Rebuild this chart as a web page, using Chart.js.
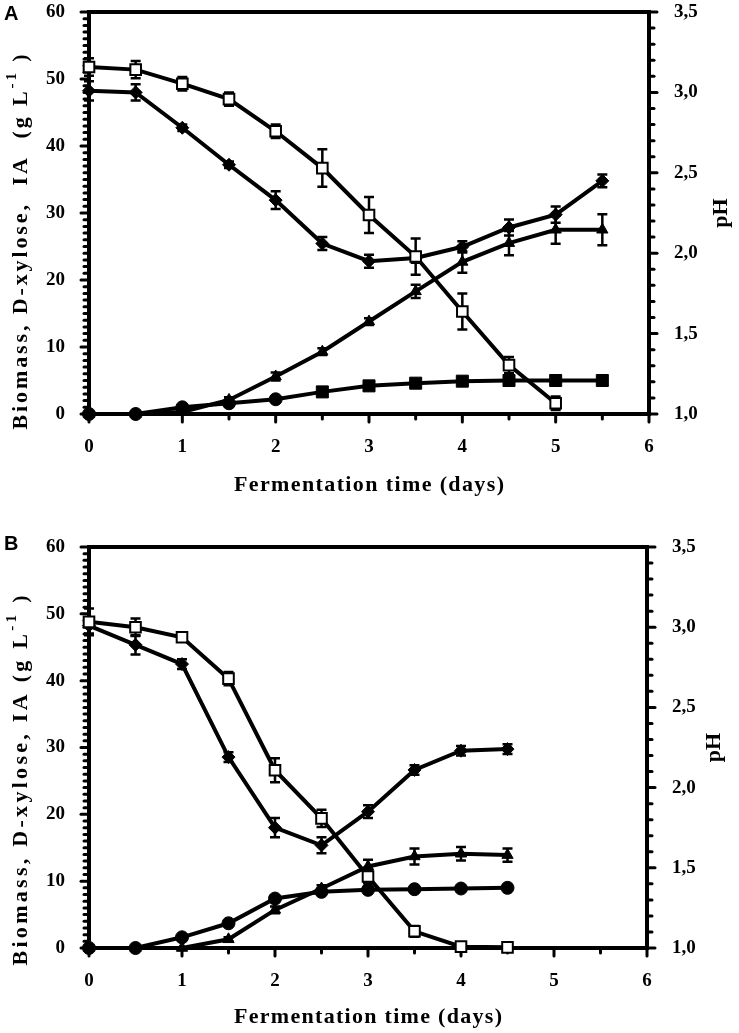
<!DOCTYPE html>
<html lang="en">
<head>
<meta charset="UTF-8"/>
<title>Fermentation time course</title>
<script src="https://cdn.jsdelivr.net/npm/chart.js"></script>
<style>
  body { margin: 0; background: #fff; }
  .panel { position: absolute; left: 0; }
  .tag { position: absolute; font: bold 20px "Liberation Sans", Arial, sans-serif; color: #000; }
</style>
</head>
<body>
<div class="panel" style="top:0"><canvas id="chartA" width="739" height="516"></canvas></div>
<div class="panel" style="top:516px"><canvas id="chartB" width="739" height="517"></canvas></div>
<div class="tag" style="left:4px;top:2px">A</div>
<div class="tag" style="left:4px;top:532px">B</div>
<script>
// sampling times (days)
const daysA = [0, 0.5, 1, 1.5, 2, 2.5, 3, 3.5, 4, 4.5, 5, 5.5];
const daysB = [0, 0.5, 1, 1.5, 2, 2.5, 3, 3.5, 4, 4.5];

// panel A
const xyloseA    = [51.8, 51.4, 49.3, 47.0, 42.2, 36.7, 29.7, 23.5, 15.3, 7.3, 1.6];
const xyloseErrA = [1.3, 1.3, 1.0, 1.0, 1.0, 2.8, 2.7, 2.7, 2.7, 1.2, 1.0];
const phA        = [3.01, 3.00, 2.78, 2.55, 2.33, 2.06, 1.95, 1.97, 2.04, 2.16, 2.24, 2.45];
const phErrA     = [0.06, 0.05, 0.02, 0.02, 0.055, 0.04, 0.04, 0.03, 0.035, 0.05, 0.05, 0.04];
const iaA        = [0, 0, 0.3, 2.1, 5.6, 9.3, 13.8, 18.3, 22.7, 25.5, 27.5, 27.5];
const iaErrA     = [0, 0, 0.2, 0.4, 0.6, 0.5, 0.5, 1.0, 1.6, 1.8, 2.1, 2.3];
const biomassA   = [0, 0, 1.0, 1.6, 2.2, 3.3, 4.2, 4.6, 4.9, 5.0, 5.0, 5.0];
const biomassErrA = [0, 0, 0.2, 0.3, 0.3, 0.5, 0.5, 0.5, 0.5, 0.5, 0.5, 0.5];

// panel B
const xyloseB    = [48.8, 48.0, 46.5, 40.3, 26.6, 19.4, 10.7, 2.5, 0.2, 0.1];
const xyloseErrB = [2.0, 1.3, 0.6, 1.0, 1.8, 1.3, 1.0, 0.8, 0.3, 0.3];
const phB        = [3.01, 2.89, 2.77, 2.19, 1.75, 1.64, 1.85, 2.11, 2.23, 2.24];
const phErrB     = [0.05, 0.06, 0.03, 0.03, 0.06, 0.05, 0.04, 0.03, 0.03, 0.03];
const iaB        = [0, 0, 0, 1.3, 5.7, 8.9, 12.2, 13.7, 14.1, 13.9];
const iaErrB     = [0, 0, 0, 0.3, 0.5, 0.5, 1.0, 1.2, 1.0, 1.0];
const biomassB   = [0, 0, 1.6, 3.7, 7.4, 8.4, 8.7, 8.8, 8.9, 9.0];
const biomassErrB = [0, 0, 0.2, 0.3, 0.4, 0.4, 0.4, 0.3, 0.3, 0.3];

const serif = '"Liberation Serif", "Times New Roman", serif';
const tickFont = { family: serif, weight: 'bold', size: 19 };

function pts(xs, ys) {
    return ys.map(function (v, i) { return { x: xs[i], y: v }; });
}

function line(xs, ys, errs, axis, style, radius, fill) {
    return {
        data: pts(xs, ys),
        errors: errs,
        yAxisID: axis,
        borderColor: '#000',
        borderWidth: 4,
        tension: 0,
        fill: false,
        clip: false,
        pointStyle: style,
        pointRadius: radius,
        pointBackgroundColor: fill,
        pointBorderColor: '#000',
        pointBorderWidth: fill === '#fff' ? 2 : 1
    };
}

// draws text stretched to a given length
function spaced(ctx, parts, cx, cy, span) {
    var natural = 0, n = 0;
    ctx.letterSpacing = '0px';
    parts.forEach(function (p) {
        ctx.font = p.font;
        natural += ctx.measureText(p.t).width;
        n += p.t.length;
    });
    var gap = span ? (span - natural) / Math.max(1, n - 1) : 0;
    var x = cx - (span || natural) / 2;
    ctx.textAlign = 'left';
    ctx.textBaseline = 'middle';
    parts.forEach(function (p) {
        ctx.font = p.font;
        ctx.letterSpacing = gap + 'px';
        ctx.fillText(p.t, x, cy + (p.dy || 0));
        x += ctx.measureText(p.t).width;
    });
    ctx.letterSpacing = '0px';
}

function isMajor(scale, v) {
    var step = scale.id === 'y' ? 10 : (scale.id === 'y1' ? 0.5 : 1);
    var r = v / step;
    return Math.abs(r - Math.round(r)) < 1e-6;
}

const frameAndBars = {
    id: 'frameAndBars',
    beforeDatasetsDraw: function (chart) {
        var ctx = chart.ctx, a = chart.chartArea;
        ctx.save();
        ctx.strokeStyle = '#000';
        // tick marks outside the frame
        ctx.lineWidth = 3;
        ctx.lineCap = 'round';
        ['x', 'y', 'y1'].forEach(function (id) {
            var s = chart.scales[id];
            s.ticks.forEach(function (t) {
                var p = s.getPixelForValue(t.value);
                var len = isMajor(s, t.value) ? 6 : 3;
                ctx.beginPath();
                if (id === 'x') { ctx.moveTo(p, a.bottom); ctx.lineTo(p, a.bottom + 2 + len); }
                else if (id === 'y') { ctx.moveTo(a.left, p); ctx.lineTo(a.left - 2 - len, p); }
                else { ctx.moveTo(a.right, p); ctx.lineTo(a.right + 2 + len, p); }
                ctx.stroke();
            });
        });
        ctx.lineCap = 'butt';
        ctx.lineWidth = 4;
        ctx.strokeRect(a.left, a.top, a.right - a.left, a.bottom - a.top);
        // error bars
        ctx.lineWidth = 2.5;
        chart.data.datasets.forEach(function (ds) {
            var ys = chart.scales[ds.yAxisID], xs = chart.scales.x;
            ds.data.forEach(function (p, j) {
                var e = ds.errors[j];
                if (!e) return;
                var px = xs.getPixelForValue(p.x);
                var y1 = ys.getPixelForValue(p.y - e), y2 = ys.getPixelForValue(p.y + e);
                ctx.beginPath();
                ctx.moveTo(px, y1); ctx.lineTo(px, y2);
                ctx.moveTo(px - 5, y1); ctx.lineTo(px + 5, y1);
                ctx.moveTo(px - 5, y2); ctx.lineTo(px + 5, y2);
                ctx.stroke();
            });
        });
        ctx.restore();
    },
    afterDraw: function (chart, args, o) {
        var ctx = chart.ctx, a = chart.chartArea;
        var big = 'bold 22px ' + serif, small = 'bold 15px ' + serif;
        ctx.save();
        ctx.fillStyle = '#000';
        // left title, rotated
        ctx.save();
        ctx.translate(o.yTitleX, (a.top + a.bottom) / 2 + o.yTitleShift);
        ctx.rotate(-Math.PI / 2);
        spaced(ctx, [
            { t: o.yTitle, font: big },
            { t: '-1', font: small, dy: -9 },
            { t: ' )', font: big }
        ], 0, 0, o.yTitleSpan);
        ctx.restore();
        // right title
        ctx.save();
        ctx.translate(o.phX, (a.top + a.bottom) / 2);
        ctx.rotate(-Math.PI / 2);
        spaced(ctx, [{ t: 'pH', font: big }], 0, 0, 0);
        ctx.restore();
        // bottom title
        spaced(ctx, [{ t: 'Fermentation time (days)', font: big }],
            (a.left + a.right) / 2, o.xTitleY, o.xTitleSpan);
        ctx.restore();
    }
};

function noPad(s) {
    s.paddingTop = 0; s.paddingBottom = 0; s.paddingLeft = 0; s.paddingRight = 0;
}

function makeChart(id, datasets, cfg) {
    var grid = { display: false };
    return new Chart(document.getElementById(id), {
        type: 'line',
        data: { datasets: datasets },
        options: {
            responsive: false,
            animation: false,
            layout: { padding: { top: cfg.top, left: 0, right: 0, bottom: 0 } },
            plugins: { legend: { display: false }, tooltip: { enabled: false }, frameAndBars: cfg.titles },
            scales: {
                x: {
                    type: 'linear', min: 0, max: 6,
                    ticks: {
                        stepSize: 0.5, autoSkip: false, maxRotation: 0, color: '#000', font: tickFont, padding: 14,
                        callback: function (v) { return Math.abs(v - Math.round(v)) < 1e-9 ? String(Math.round(v)) : ''; }
                    },
                    grid: grid, border: { display: false },
                    afterFit: function (s) { s.height = cfg.xHeight; noPad(s); }
                },
                y: {
                    position: 'left', min: 0, max: 60,
                    ticks: {
                        stepSize: 1, autoSkip: false, maxTicksLimit: 100, color: '#000', font: tickFont, padding: 16,
                        callback: function (v) { return Math.abs(v % 10) < 1e-9 ? String(v) : ''; }
                    },
                    grid: grid, border: { display: false },
                    afterFit: function (s) { s.width = cfg.leftW; noPad(s); }
                },
                y1: {
                    position: 'right', min: 1, max: 3.5,
                    ticks: {
                        stepSize: 0.1, autoSkip: false, maxTicksLimit: 100, color: '#000', font: tickFont, padding: 17,
                        callback: function (v) {
                            return Math.abs(v * 2 - Math.round(v * 2)) < 1e-6 ? v.toFixed(1).replace('.', ',') : '';
                        }
                    },
                    grid: grid, border: { display: false },
                    afterFit: function (s) { s.width = cfg.rightW; noPad(s); }
                }
            }
        },
        plugins: [frameAndBars]
    });
}

var squareA = ['circle', 'circle', 'circle', 'circle', 'circle', 'rect', 'rect', 'rect', 'rect', 'rect', 'rect', 'rect'];

makeChart('chartA', [
    line(daysA, xyloseA, xyloseErrA, 'y', 'rect', 7.5, '#fff'),
    line(daysA, phA, phErrA, 'y1', 'rectRot', 6.5, '#000'),
    line(daysA, iaA, iaErrA, 'y', 'triangle', 6.5, '#000'),
    Object.assign(line(daysA, biomassA, biomassErrA, 'y', squareA, 6.5, '#000'), {
        pointRadius: biomassA.map(function (v, i) { return squareA[i] === 'rect' ? 8.5 : 6.5; })
    })
], {
    top: 12, xHeight: 102, leftW: 89, rightW: 90,
    titles: { yTitle: 'Biomass, D-xylose,  IA  (g L', yTitleX: 21, yTitleShift: 29, yTitleSpan: 375,
              phX: 721, xTitleY: 485, xTitleSpan: 270 }
});

makeChart('chartB', [
    line(daysB, xyloseB, xyloseErrB, 'y', 'rect', 7.5, '#fff'),
    line(daysB, phB, phErrB, 'y1', 'rectRot', 6.5, '#000'),
    line(daysB, iaB, iaErrB, 'y', 'triangle', 6.5, '#000'),
    line(daysB, biomassB, biomassErrB, 'y', 'circle', 6.5, '#000')
], {
    top: 31, xHeight: 85, leftW: 89, rightW: 92,
    titles: { yTitle: 'Biomass, D-xylose, IA (g L', yTitleX: 21, yTitleShift: 33, yTitleSpan: 370,
              phX: 714, xTitleY: 501, xTitleSpan: 268 }
});
</script>
</body>
</html>
